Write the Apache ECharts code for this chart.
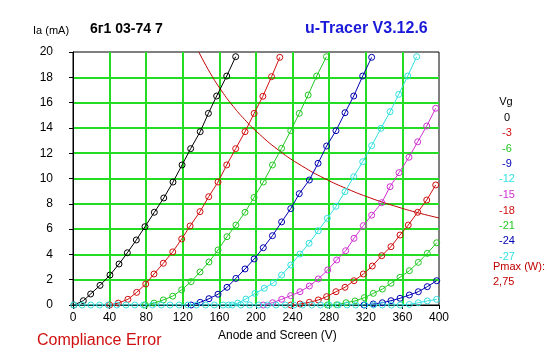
<!DOCTYPE html>
<html>
<head>
<meta charset="utf-8">
<script src="https://cdn.jsdelivr.net/npm/echarts@6/dist/echarts.min.js"></script>
<style>
html,body{margin:0;padding:0;background:#fff;}
#c{width:547px;height:357px;}
</style>
</head>
<body>
<div id="c"></div>
<script>
// ---- data ----
const xTicks = [0, 40, 80, 120, 160, 200, 240, 280, 320, 360, 400];
const yTicks = [0, 2, 4, 6, 8, 10, 12, 14, 16, 18, 20];
const vgLabels = ['0', '-3', '-6', '-9', '-12', '-15', '-18', '-21', '-24', '-27'];
const curveColors = ['#000000', '#d01010', '#22c822', '#0000b0', '#33e0e0', '#d030d0', '#d01010', '#22c822', '#0000b0', '#33e0e0'];

const vg0V = [1, 11.3, 19.3, 29.5, 40.4, 50.3, 59.4, 69.2, 78.7, 88.9, 99.2, 109.3, 119.2, 128.6, 139, 148, 157, 168, 177.8];
const vg0I = [0, 0.34, 0.87, 1.55, 2.37, 3.24, 4.13, 5.14, 6.19, 7.33, 8.46, 9.72, 11.07, 12.36, 13.7, 15.15, 16.52, 18.1, 19.63];

const vg3V = [40, 49.5, 60, 69.6, 79.5, 88.5, 98.7, 109, 118.8, 128, 138.8, 148.3, 158.5, 168, 177.8, 188, 198, 207.5, 217, 226];
const vg3I = [0, 0.15, 0.45, 1.0, 1.66, 2.45, 3.3, 4.2, 5.22, 6.25, 7.38, 8.56, 9.72, 11.07, 12.36, 13.7, 15.15, 16.5, 18.05, 19.58];

const vg6V = [79, 88.5, 98.7, 109, 118.8, 129, 138.8, 148.6, 158.5, 168.3, 178, 188, 197.8, 208, 218, 228, 238, 247.3, 257, 266.3, 277];
const vg6I = [0, 0.15, 0.4, 0.7, 1.2, 1.85, 2.61, 3.4, 4.35, 5.4, 6.32, 7.33, 8.5, 9.72, 11.07, 12.39, 13.78, 15.15, 16.6, 18.1, 19.63];

const vg9V = [129, 139, 148.6, 158.5, 168.3, 178, 188, 198, 208, 218, 228, 238, 247.3, 258.3, 267.8, 277.2, 287.4, 297.3, 306.8, 316.6, 326.4];
const vg9I = [0, 0.21, 0.5, 0.85, 1.4, 2.1, 2.85, 3.64, 4.53, 5.48, 6.57, 7.62, 8.8, 9.88, 11.2, 12.57, 13.78, 15.2, 16.52, 18.1, 19.58];

const vg12V = [170, 180, 189, 199, 209, 219, 228, 238, 248, 258, 268, 278, 287.4, 297.3, 306.8, 316.6, 326.4, 336.6, 346.5, 356, 365.8, 375.6];
const vg12I = [0, 0.15, 0.47, 0.92, 1.32, 1.75, 2.37, 3.16, 4.03, 4.88, 5.87, 6.85, 7.8, 8.96, 10.14, 11.33, 12.6, 13.97, 15.28, 16.65, 18.1, 19.63];

const vg15V = [208, 218.2, 228.1, 237.9, 248.1, 258.3, 268.1, 278.4, 288.2, 298, 307.1, 317.3, 326.4, 337.4, 346.5, 356.3, 367.2, 376.7, 386.6, 396.4];
const vg15I = [0, 0.18, 0.45, 0.74, 1.05, 1.5, 2.06, 2.77, 3.56, 4.29, 5.27, 6.27, 7.1, 8.09, 9.35, 10.46, 11.68, 12.9, 14.15, 15.55];

const vg18V = [238, 248.1, 258.3, 268.1, 277.2, 287.4, 297.3, 307.1, 317.3, 327.1, 337.4, 347.5, 357.4, 366.4, 376.7, 386.6, 396.4];
const vg18I = [0, 0.08, 0.21, 0.4, 0.66, 1.05, 1.4, 1.92, 2.45, 3.08, 3.9, 4.61, 5.53, 6.32, 7.33, 8.3, 9.49];

const vg21V = [278, 288.2, 298.4, 308.2, 318.4, 328.2, 338.1, 347.5, 357.4, 367.6, 377.4, 387.2, 397.5];
const vg21I = [0, 0.02, 0.18, 0.32, 0.58, 0.92, 1.26, 1.72, 2.19, 2.71, 3.37, 4.08, 4.92];

const vg24V = [318, 328.2, 338.1, 347.5, 357.4, 367.6, 377.4, 387.2, 397.5];
const vg24I = [0, 0.08, 0.18, 0.34, 0.53, 0.79, 1.05, 1.45, 1.92];

const vg27V = [1, 10, 19.5, 29, 38.5, 48, 58, 67.5, 77, 87, 96.5, 106, 116, 125.5, 135, 145, 154.5, 164, 174, 183.5, 193, 203, 212.5, 222, 232, 241.5, 251, 261, 270.5, 280, 290, 299.5, 309, 319, 328.5, 338, 348, 357.5, 367.6, 377.4, 387.2, 397.5];
const vg27I = [0, 0, 0, 0, 0, 0, 0, 0, 0, 0, 0, 0, 0, 0, 0, 0, 0, 0, 0, 0, 0, 0, 0, 0, 0, 0, 0, 0, 0, 0, 0, 0, 0, 0, 0, 0, 0, 0, 0.05, 0.18, 0.32, 0.45];

const pmaxV = [137.5, 150, 162.5, 175, 187.5, 200, 225, 250, 275, 300, 325, 350, 375, 400];
const pmaxI = [20, 18.33, 16.92, 15.71, 14.67, 13.75, 12.22, 11, 10, 9.17, 8.46, 7.86, 7.33, 6.88];
const pmaxLabel = '2,75';

const curvesV = [vg0V, vg3V, vg6V, vg9V, vg12V, vg15V, vg18V, vg21V, vg24V, vg27V];
const curvesI = [vg0I, vg3I, vg6I, vg9I, vg12I, vg15I, vg18I, vg21I, vg24I, vg27I];

// ---- chart ----
const FONT = 'Liberation Sans, Arial, sans-serif';
const zip = (a, b) => a.map((v, i) => [v, b[i]]);

const series = curvesV.map((vs, k) => ({
  name: 'Vg ' + vgLabels[k],
  type: 'line',
  data: zip(vs, curvesI[k]),
  symbol: 'circle',
  symbolSize: 6,
  showSymbol: true,
  showAllSymbol: true,
  lineStyle: { color: curveColors[k], width: 1 },
  itemStyle: { color: 'rgba(0,0,0,0)', borderColor: curveColors[k], borderWidth: 1 },
  emphasis: { disabled: true },
  z: 3
}));
series.unshift({
  name: 'Pmax',
  type: 'line',
  data: zip(pmaxV, pmaxI),
  smooth: true,
  showSymbol: false,
  lineStyle: { color: '#c00000', width: 1 },
  emphasis: { disabled: true },
  z: 2
});

const graphics = [
  { type: 'text', left: 33, top: 25, style: { text: 'Ia (mA)', font: '11px ' + FONT, fill: '#000' } },
  { type: 'text', left: 90, top: 22, style: { text: '6г1 03-74 7', font: 'bold 14px ' + FONT, fill: '#000' } },
  { type: 'text', left: 305, top: 21, style: { text: 'u-Tracer V3.12.6', font: 'bold 16px ' + FONT, fill: '#1a1ad8' } },
  { type: 'text', left: 218, top: 330, style: { text: 'Anode and Screen (V)', font: '12px ' + FONT, fill: '#000' } },
  { type: 'text', left: 37, top: 333, style: { text: 'Compliance Error', font: '16px ' + FONT, fill: '#d01010' } },
  { type: 'text', x: 506, y: 102, style: { text: 'Vg', font: '11px ' + FONT, fill: '#000', align: 'center', verticalAlign: 'middle' } }
];
const legendY = [118, 133, 149, 164, 179, 195, 211, 226, 241, 257];
vgLabels.forEach((lab, k) => {
  graphics.push({ type: 'text', x: 507, y: legendY[k], style: { text: lab, font: '11px ' + FONT, fill: curveColors[k], align: 'center', verticalAlign: 'middle' } });
});
graphics.push({ type: 'text', x: 493, y: 267, style: { text: 'Pmax (W):', font: '11px ' + FONT, fill: '#c00000', verticalAlign: 'middle' } });
graphics.push({ type: 'text', x: 493, y: 282, style: { text: pmaxLabel, font: '11px ' + FONT, fill: '#c00000', verticalAlign: 'middle' } });

const chart = echarts.init(document.getElementById('c'), null, { renderer: 'canvas' });
chart.setOption({
  animation: false,
  backgroundColor: '#ffffff',
  grid: { left: 73, right: 108, top: 52, bottom: 52, show: true, borderColor: '#000', borderWidth: 1, backgroundColor: 'transparent' },
  xAxis: {
    type: 'value', min: xTicks[0], max: xTicks[xTicks.length - 1], interval: xTicks[1] - xTicks[0],
    axisLine: { show: true, onZero: false, lineStyle: { color: '#000', width: 1 } },
    axisTick: { show: true, length: 4, lineStyle: { color: '#000' } },
    axisLabel: { color: '#000', fontSize: 12, fontFamily: FONT, margin: 7 },
    splitLine: { show: true, showMinLine: false, showMaxLine: false, lineStyle: { color: '#22dd22', width: 2 } }
  },
  yAxis: {
    type: 'value', min: yTicks[0], max: yTicks[yTicks.length - 1], interval: yTicks[1] - yTicks[0],
    axisLine: { show: true, onZero: false, lineStyle: { color: '#000', width: 1 } },
    axisTick: { show: true, length: 4, lineStyle: { color: '#000' } },
    axisLabel: { color: '#000', fontSize: 12, fontFamily: FONT, margin: 20 },
    splitLine: { show: true, showMinLine: false, showMaxLine: false, lineStyle: { color: '#22dd22', width: 2 } }
  },
  graphic: graphics,
  series: series
});
</script>
</body>
</html>
